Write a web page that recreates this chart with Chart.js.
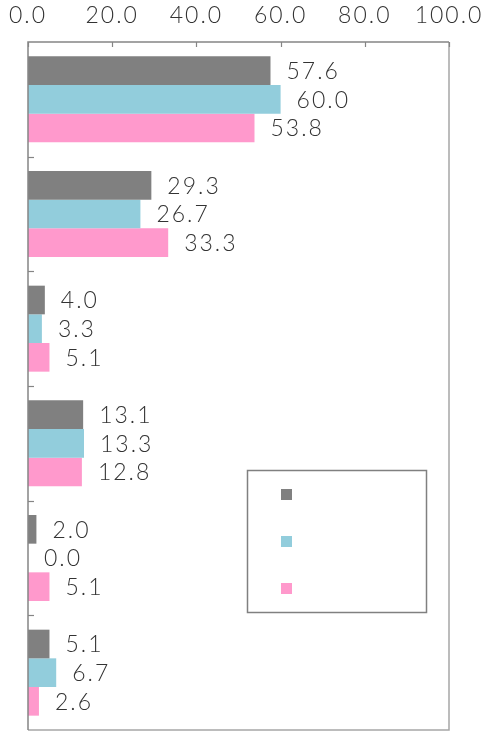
<!DOCTYPE html>
<html>
<head>
<meta charset="utf-8">
<script src="https://cdn.jsdelivr.net/npm/chart.js@4/dist/chart.umd.min.js"></script>
<style>
html,body{margin:0;padding:0;background:#fff;}
#wrap{width:488px;height:732px;position:relative;}
</style>
</head>
<body>
<div id="wrap"><canvas id="c" width="488" height="732"></canvas></div>
<script>
const categories = ["1", "2", "3", "4", "5", "6"];
const seriesNames = ["Series 1", "Series 2", "Series 3"];
const series1 = [57.6, 29.3, 4.0, 13.1, 2.0, 5.1];
const series2 = [60.0, 26.7, 3.3, 13.3, 0.0, 6.7];
const series3 = [53.8, 33.3, 5.1, 12.8, 5.1, 2.6];
const xTicks = [0, 20, 40, 60, 80, 100];
const colors = ["#808080", "#92CDDC", "#FF99CC"];

const FONT = "Lato, 'DejaVu Sans', sans-serif";
const SPACING = '2px';

const spacingPlugin = {
  id: 'spacing',
  beforeDraw(chart) { chart.ctx.letterSpacing = SPACING; }
};

const framePlugin = {
  id: 'frame',
  afterDatasetsDraw(chart) {
    const {ctx, chartArea: a, scales: {x, y}} = chart;
    ctx.save();
    ctx.strokeStyle = '#a6a6a6';
    ctx.lineWidth = 1.5;
    ctx.beginPath();
    ctx.moveTo(a.right, a.top); ctx.lineTo(a.right, a.bottom);
    ctx.lineTo(a.left, a.bottom);
    ctx.stroke();
    ctx.strokeStyle = '#858585';
    ctx.beginPath();
    ctx.moveTo(a.left, a.bottom); ctx.lineTo(a.left, a.top); ctx.lineTo(a.right, a.top);
    ctx.stroke();
    ctx.lineWidth = 1.2;
    xTicks.forEach(v => {
      const px = Math.round(x.getPixelForValue(v)) + 0.5;
      ctx.beginPath(); ctx.moveTo(px, a.top); ctx.lineTo(px, a.top + 5); ctx.stroke();
    });
    for (let i = 0; i < categories.length - 1; i++) {
      const py = Math.round((y.getPixelForValue(i) + y.getPixelForValue(i + 1)) / 2) + 0.5;
      ctx.beginPath(); ctx.moveTo(a.left, py); ctx.lineTo(a.left + 6, py); ctx.stroke();
    }
    ctx.fillStyle = '#333333';
    ctx.font = "300 23px " + FONT;
    ctx.letterSpacing = SPACING;
    ctx.textBaseline = 'middle';
    ctx.textAlign = 'left';
    chart.data.datasets.forEach((ds, di) => {
      const meta = chart.getDatasetMeta(di);
      meta.data.forEach((bar, i) => {
        ctx.fillText(ds.data[i].toFixed(1), bar.x + 16, bar.y + 1);
      });
    });
    const lx = 247, ly = 470, lw = 179, lh = 142;
    ctx.fillStyle = '#ffffff';
    ctx.fillRect(lx, ly, lw, lh);
    ctx.strokeStyle = '#808080';
    ctx.lineWidth = 1.5;
    ctx.strokeRect(lx + 0.5, ly + 0.5, lw, lh);
    chart.data.datasets.forEach((ds, di) => {
      ctx.fillStyle = ds.backgroundColor;
      ctx.fillRect(281, 489 + di * 47, 11, 11);
    });
    ctx.restore();
  }
};

new Chart(document.getElementById('c'), {
  type: 'bar',
  data: {
    labels: categories,
    datasets: [
      {label: seriesNames[0], data: series1, backgroundColor: colors[0]},
      {label: seriesNames[1], data: series2, backgroundColor: colors[1]},
      {label: seriesNames[2], data: series3, backgroundColor: colors[2]}
    ]
  },
  options: {
    indexAxis: 'y',
    responsive: false,
    animation: false,
    devicePixelRatio: 1,
    layout: {padding: {left: 0, right: 39, top: 0, bottom: 2}},
    datasets: {bar: {categoryPercentage: 0.75, barPercentage: 1.0, borderWidth: 0}},
    plugins: {legend: {display: false}, tooltip: {enabled: false}},
    scales: {
      x: {
        position: 'top',
        min: 0, max: 100,
        afterBuildTicks: s => { s.ticks = xTicks.map(v => ({value: v})); },
        afterFit: s => { s.height = 42; s.paddingLeft = 0; s.paddingRight = 0; },
        grid: {display: false, drawTicks: false},
        border: {display: false},
        ticks: {
          padding: 13,
          color: '#333333',
          font: {family: FONT, size: 23, weight: 300},
          callback: v => Number(v).toFixed(1),
          maxRotation: 0
        }
      },
      y: {
        afterFit: s => { s.width = 28; s.paddingTop = 0; s.paddingBottom = 0; },
        grid: {display: false, drawTicks: false},
        border: {display: false},
        ticks: {display: false}
      }
    }
  },
  plugins: [spacingPlugin, framePlugin]
});
</script>
</body>
</html>
